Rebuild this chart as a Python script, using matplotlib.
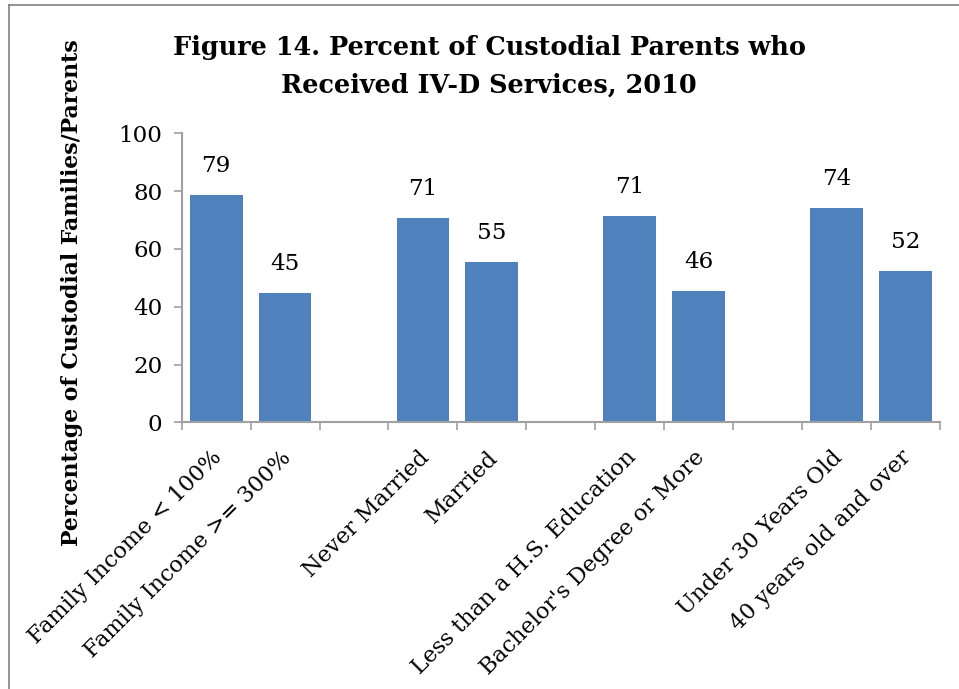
import matplotlib.pyplot as plt
from matplotlib.lines import Line2D

categories = [
    "Family Income < 100%",
    "Family Income >= 300%",
    "",
    "Never Married",
    "Married",
    "",
    "Less than a H.S. Education",
    "Bachelor's Degree or More",
    "",
    "Under 30 Years Old",
    "40 years old and over",
]
values = [78.6, 44.8, None, 70.8, 55.5, None, 71.4, 45.5, None, 74.2, 52.3]
labels = ["79", "45", "", "71", "55", "", "71", "46", "", "74", "52"]

BAR_COLOR = "#4F81BD"
AXIS_COLOR = "#A0A0A0"

plt.rcParams["font.family"] = ["DejaVu Serif"]

fig = plt.figure(figsize=(9.59, 6.89), dpi=100)
ax = fig.add_axes([0.1895, 0.387, 0.7905, 0.4195])

xs = [i for i, v in enumerate(values) if v is not None]
heights = [v for v in values if v is not None]
ax.bar(xs, heights, width=0.765, color=BAR_COLOR, zorder=2)

for x, v in enumerate(values):
    if v is None:
        continue
    ax.annotate(labels[x], (x, v), xytext=(0, 13), textcoords="offset points",
                ha="center", va="bottom", fontsize=16.6)

ax.set_xlim(-0.5, len(categories) - 0.5)
ax.set_ylim(0, 100)
ax.set_yticks(range(0, 101, 20))
ax.tick_params(axis="y", labelsize=16.6, length=6, width=1.2, color=AXIS_COLOR, pad=8)

# category ticks sit between slots, labels centred in slots
ax.set_xticks([i - 0.5 for i in range(len(categories) + 1)])
ax.set_xticklabels([])
ax.tick_params(axis="x", length=6, width=1.2, color=AXIS_COLOR)
for i, name in enumerate(categories):
    if name:
        ax.text(i + 0.04, -11, name, rotation=45, rotation_mode="anchor",
                ha="right", va="center", fontsize=16.1, transform=ax.transData)

for side in ["top", "right"]:
    ax.spines[side].set_visible(False)
for side in ["left", "bottom"]:
    ax.spines[side].set_color(AXIS_COLOR)
    ax.spines[side].set_linewidth(1.5)

ax.set_ylabel("Percentage of Custodial Families/Parents", fontsize=15.8,
              fontweight="bold")
ax.yaxis.set_label_coords(-0.13, 0.45)

fig.text(0.51, 0.904, "Figure 14. Percent of Custodial Parents who\nReceived IV-D Services, 2010",
         ha="center", va="center", fontsize=18.4, fontweight="bold", linespacing=1.62)

# border of the chart area (top and left edges visible)
fig.add_artist(Line2D([9 / 959, 1.0], [1 - 5 / 689, 1 - 5 / 689], color="#808080", lw=1.2))
fig.add_artist(Line2D([9 / 959, 9 / 959], [0.0, 1 - 5 / 689], color="#808080", lw=1.2))

fig.savefig("out.png", dpi=100)
